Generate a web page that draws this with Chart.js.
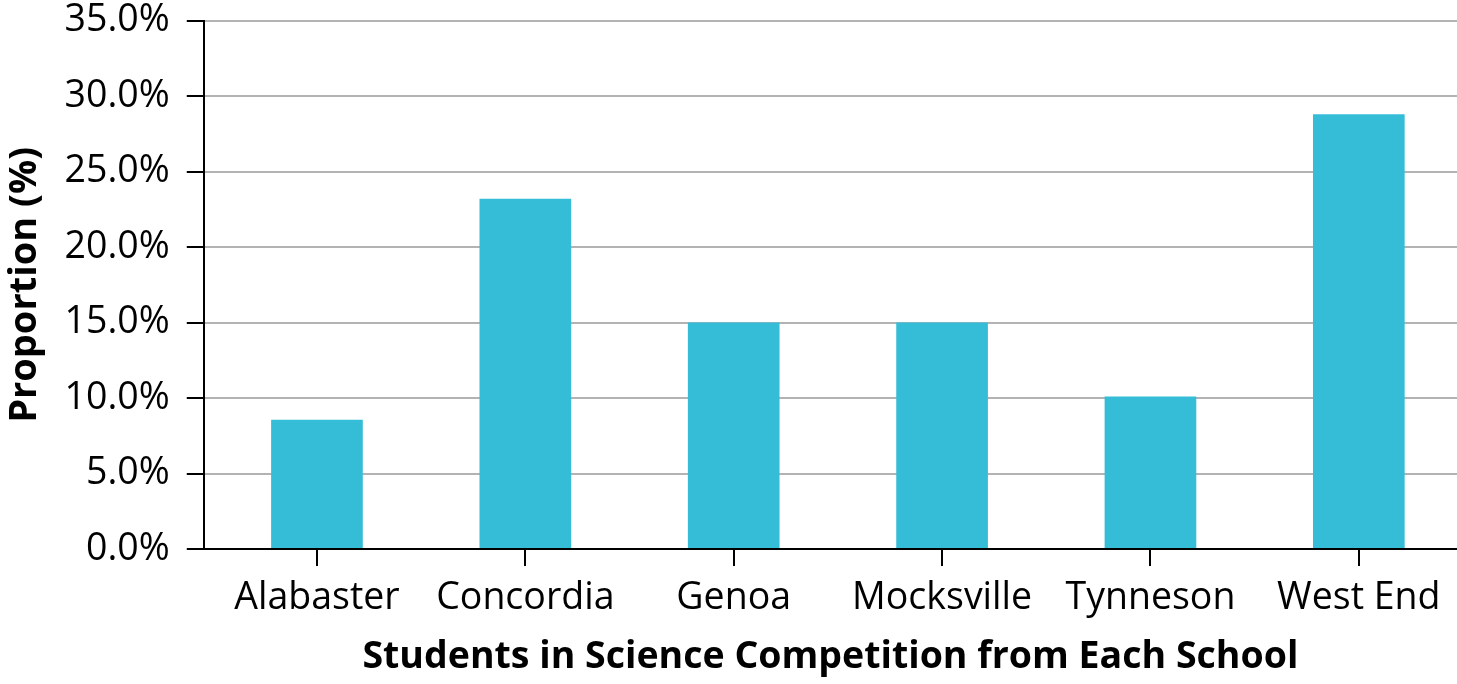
<!DOCTYPE html>
<html>
<head>
<meta charset="utf-8">
<script src="https://cdn.jsdelivr.net/npm/chart.js@4"></script>
<style>
  body { margin: 0; background: #fff; }
  #wrap { width: 1457px; height: 684px; }
</style>
</head>
<body>
<div id="wrap"><canvas id="schoolChart"></canvas></div>
<script>
  const schools = ["Alabaster", "Concordia", "Genoa", "Mocksville", "Tynneson", "West End"];
  const proportions = [8.56, 23.2, 15.0, 15.0, 10.1, 28.8];
  const yTicks = [0, 5, 10, 15, 20, 25, 30, 35];

  // the categories in the original start a little right of the y axis
  // and run slightly past the right edge of the picture
  const shiftCategories = {
    id: "shiftCategories",
    afterLayout(chart) {
      const x = chart.scales.x;
      x._startPixel = x.left + 9;
      x._endPixel = x.right + 6;
      x._length = x._endPixel - x._startPixel;
    }
  };

  const ctx = document.getElementById("schoolChart");

  new Chart(ctx, {
    type: "bar",
    data: {
      labels: schools,
      datasets: [{
        label: "Proportion (%)",
        data: proportions,
        backgroundColor: "#35bdd8",
        barPercentage: 0.44,
        categoryPercentage: 1
      }]
    },
    plugins: [shiftCategories],
    options: {
      responsive: true,
      maintainAspectRatio: false,
      animation: false,
      layout: { padding: { top: 0, right: 0, left: 2, bottom: 4 } },
      plugins: {
        legend: { display: false },
        tooltip: { enabled: false }
      },
      scales: {
        x: {
          grid: {
            offset: false,
            drawOnChartArea: false, // only the little tick marks under the axis
            tickLength: 17,
            tickColor: "#000",
            lineWidth: 2
          },
          border: { color: "#000", width: 2 },
          ticks: {
            color: "#000",
            padding: 10,
            font: { family: "Open Sans", size: 37.5 }
          },
          title: {
            display: true,
            text: "Students in Science Competition from Each School",
            color: "#000",
            padding: { top: 4, bottom: 0 },
            font: { family: "Open Sans", size: 37.5, weight: "bold" }
          }
        },
        y: {
          min: yTicks[0],
          max: yTicks[yTicks.length - 1],
          afterBuildTicks: function(axis) {
            axis.ticks = yTicks.map(v => ({ value: v }));
          },
          grid: {
            color: "#b3b3b3",
            lineWidth: 2,
            tickLength: 17,
            tickColor: "#000"
          },
          border: { color: "#000", width: 2 },
          ticks: {
            color: "#000",
            padding: 17,
            font: { family: "Open Sans", size: 37.5, lineHeight: 0.2 },
            callback: function(value) {
              return value.toFixed(1) + "%";
            }
          },
          title: {
            display: true,
            text: "Proportion (%)",
            color: "#000",
            padding: 0,
            font: { family: "Open Sans", size: 38, weight: "bold" }
          }
        }
      }
    }
  });
</script>
</body>
</html>
